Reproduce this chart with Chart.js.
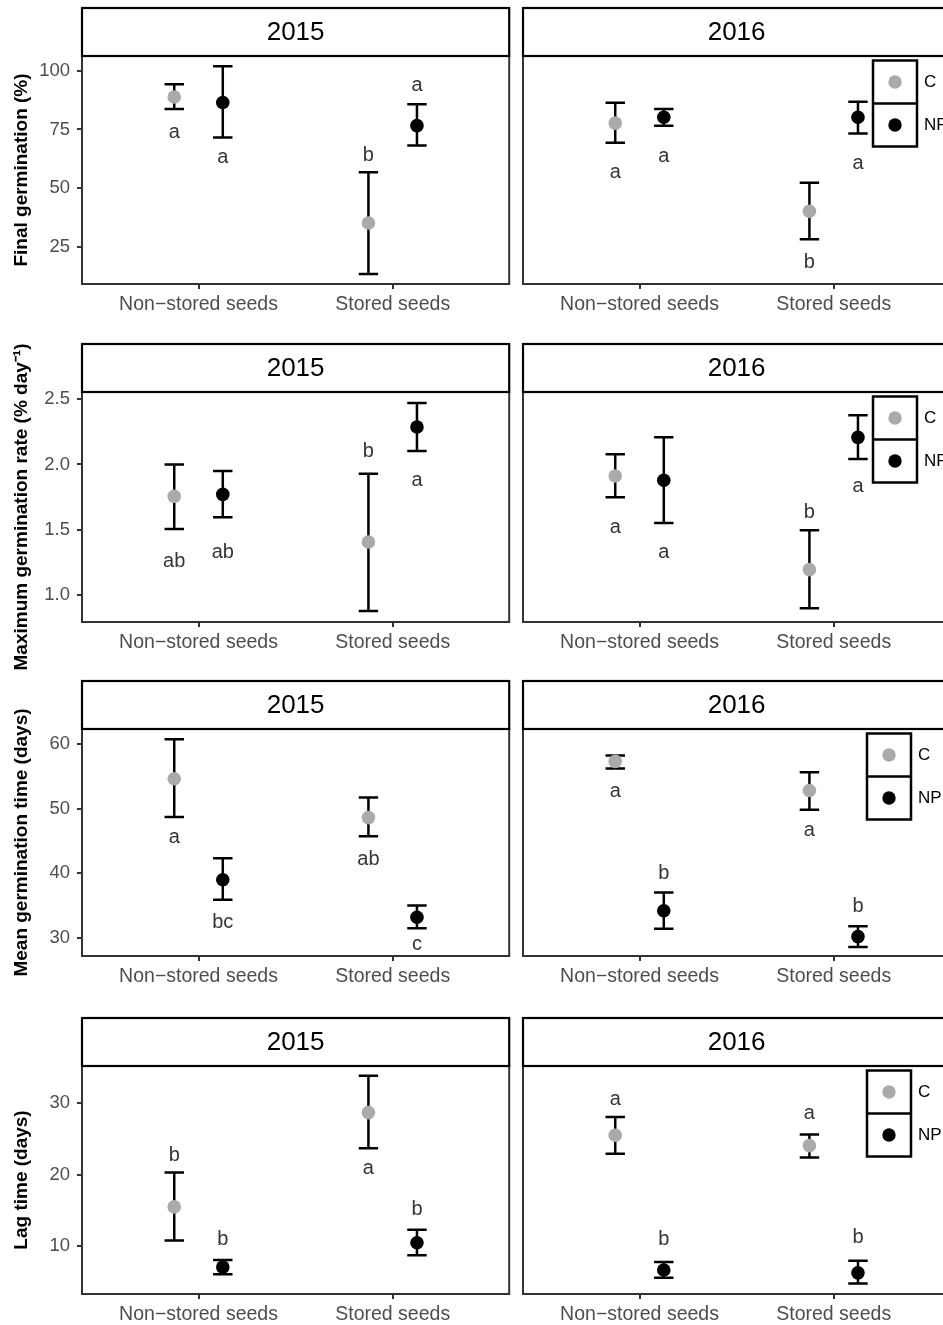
<!DOCTYPE html>
<html>
<head>
<meta charset="utf-8">
<script src="https://cdn.jsdelivr.net/npm/chart.js@4.4.1/dist/chart.umd.min.js"></script>
<style>
  body { margin: 0; background: #fff; overflow: hidden; width: 943px; height: 1325px; position: relative; }
  canvas { position: absolute; }
</style>
</head>
<body>
<script>
// categories / facets
const categories = ['Non\u2212stored seeds', 'Stored seeds'];
const years = ['2015', '2016'];
const treatments = ['C', 'NP'];

// values are ordered [2015 non-stored, 2015 stored, 2016 non-stored, 2016 stored]

// Final germination (%)
const fgMeanC = [88.8, 35.1, 77.7, 40.1];
const fgLowC = [83.7, 13.4, 69.3, 28.2];
const fgHighC = [94.3, 56.7, 86.4, 52.3];
const fgMeanNP = [86.5, 76.6, 80.2, 80.2];
const fgLowNP = [71.6, 68.1, 76.6, 73.3];
const fgHighNP = [101.9, 85.7, 83.7, 86.8];
const fgLettersC = ['a', 'b', 'a', 'b'];
const fgLettersNP = ['a', 'a', 'a', 'a'];
const fgLetterYC = [73.6, 64.0, 56.6, 18.2];
const fgLetterYNP = [63.1, 93.8, 63.4, 60.4];
const fgTicks = [25, 50, 75, 100];

// Maximum germination rate (% day-1)
const mgrMeanC = [1.755, 1.404, 1.911, 1.192];
const mgrLowC = [1.504, 0.874, 1.747, 0.895];
const mgrHighC = [2.0, 1.929, 2.078, 1.494];
const mgrMeanNP = [1.77, 2.287, 1.878, 2.208];
const mgrLowNP = [1.594, 2.103, 1.55, 2.041];
const mgrHighNP = [1.95, 2.472, 2.208, 2.377];
const mgrLettersC = ['ab', 'b', 'a', 'b'];
const mgrLettersNP = ['ab', 'a', 'a', 'a'];
const mgrLetterYC = [1.256, 2.10, 1.517, 1.634];
const mgrLetterYNP = [1.32, 1.878, 1.325, 1.834];
const mgrTicks = [1.0, 1.5, 2.0, 2.5];

// Mean germination time (days)
const mgtMeanC = [54.6, 48.6, 57.3, 52.8];
const mgtLowC = [48.7, 45.7, 56.2, 49.8];
const mgtHighC = [60.7, 51.7, 58.2, 55.6];
const mgtMeanNP = [39.0, 33.2, 34.2, 30.2];
const mgtLowNP = [35.9, 31.5, 31.4, 28.6];
const mgtHighNP = [42.3, 35.0, 37.0, 31.8];
const mgtLettersC = ['a', 'ab', 'a', 'a'];
const mgtLettersNP = ['bc', 'c', 'b', 'b'];
const mgtLetterYC = [45.45, 42.1, 52.7, 46.6];
const mgtLetterYNP = [32.45, 29.0, 40.0, 34.9];
const mgtTicks = [30, 40, 50, 60];

// Lag time (days)
const lagMeanC = [15.5, 28.65, 25.5, 24.05];
const lagLowC = [10.8, 23.7, 22.9, 22.4];
const lagHighC = [20.3, 33.8, 28.05, 25.6];
const lagMeanNP = [7.1, 10.5, 6.7, 6.3];
const lagLowNP = [6.1, 8.75, 5.6, 4.8];
const lagHighNP = [8.1, 12.3, 7.8, 8.0];
const lagLettersC = ['b', 'a', 'a', 'a'];
const lagLettersNP = ['b', 'b', 'b', 'b'];
const lagLetterYC = [22.65, 20.8, 30.5, 28.6];
const lagLetterYNP = [11.0, 15.1, 10.9, 11.2];
const lagTicks = [10, 20, 30];

const measures = [
  { title: 'Final germination (%)', min: 9.1, max: 106.3, ticks: fgTicks, dec: 0,
    C: [fgMeanC, fgLowC, fgHighC, fgLettersC, fgLetterYC], NP: [fgMeanNP, fgLowNP, fgHighNP, fgLettersNP, fgLetterYNP] },
  { title: 'Maximum germination rate (% day\u207B\u00B9)', min: 0.79, max: 2.556, ticks: mgrTicks, dec: 1,
    C: [mgrMeanC, mgrLowC, mgrHighC, mgrLettersC, mgrLetterYC], NP: [mgrMeanNP, mgrLowNP, mgrHighNP, mgrLettersNP, mgrLetterYNP] },
  { title: 'Mean germination time (days)', min: 27.2, max: 62.3, ticks: mgtTicks, dec: 0,
    C: [mgtMeanC, mgtLowC, mgtHighC, mgtLettersC, mgtLetterYC], NP: [mgtMeanNP, mgtLowNP, mgtHighNP, mgtLettersNP, mgtLetterYNP] },
  { title: 'Lag time (days)', min: 3.35, max: 35.16, ticks: lagTicks, dec: 0,
    C: [lagMeanC, lagLowC, lagHighC, lagLettersC, lagLetterYC], NP: [lagMeanNP, lagLowNP, lagHighNP, lagLettersNP, lagLetterYNP] }
];

// layout (pixels)
const rowTop = [56, 392, 729, 1066];
const rowBottom = [284, 622, 956, 1294];
const legendLeft = [357, 357, 351, 351];
const FONT = "'Liberation Sans', Arial, Helvetica, sans-serif";
const colors = { C: '#aaaaaa', NP: '#000000' };

const panelPlugin = {
  id: 'panel',
  beforeDatasetsDraw(chart) {
    const { ctx, scales: { x, y } } = chart;
    ctx.save();
    ctx.strokeStyle = '#000';
    ctx.lineWidth = 2.5;
    chart.data.datasets.forEach(ds => {
      ds.data.forEach(p => {
        const px = x.getPixelForValue(p.x);
        const x0 = x.getPixelForValue(p.x - 0.05);
        const x1 = x.getPixelForValue(p.x + 0.05);
        const yl = y.getPixelForValue(p.lo);
        const yh = y.getPixelForValue(p.hi);
        ctx.beginPath();
        ctx.moveTo(px, yl); ctx.lineTo(px, yh);
        ctx.moveTo(x0, yl); ctx.lineTo(x1, yl);
        ctx.moveTo(x0, yh); ctx.lineTo(x1, yh);
        ctx.stroke();
      });
    });
    ctx.restore();
  },
  afterDraw(chart, args, opts) {
    const { ctx, chartArea: a, scales: { x, y } } = chart;
    ctx.save();
    // letters
    ctx.fillStyle = '#36362e';
    ctx.font = '20px ' + FONT;
    ctx.textAlign = 'center';
    ctx.textBaseline = 'middle';
    chart.data.datasets.forEach(ds => {
      ds.data.forEach(p => {
        ctx.fillText(p.letter, x.getPixelForValue(p.x), y.getPixelForValue(p.ly));
      });
    });
    // panel border
    ctx.strokeStyle = '#333';
    ctx.lineWidth = 2;
    ctx.strokeRect(a.left, a.top, a.right - a.left, a.bottom - a.top);
    // strip
    const sh = 48;
    ctx.fillStyle = '#fff';
    ctx.fillRect(a.left, a.top - sh, a.right - a.left, sh);
    ctx.strokeStyle = '#000';
    ctx.lineWidth = 2.2;
    ctx.strokeRect(a.left, a.top - sh, a.right - a.left, sh);
    ctx.fillStyle = '#000';
    ctx.font = '26px ' + FONT;
    ctx.fillText(opts.strip, (a.left + a.right) / 2, a.top - sh / 2 + 1);
    // legend
    if (opts.legend) {
      const lx = opts.legendLeft, ly = a.top + 4.5, cw = 44, ch = 43;
      chart.data.datasets.forEach((ds, i) => {
        ctx.fillStyle = ds.backgroundColor;
        ctx.beginPath();
        ctx.arc(lx + cw / 2, ly + ch * i + ch / 2, 6.7, 0, Math.PI * 2);
        ctx.fill();
        ctx.fillStyle = '#000';
        ctx.font = '17px ' + FONT;
        ctx.textAlign = 'left';
        ctx.fillText(ds.label, lx + cw + 7, ly + ch * i + ch / 2);
      });
      ctx.strokeStyle = '#000';
      ctx.lineWidth = 2.5;
      ctx.strokeRect(lx, ly, cw, ch * 2);
      ctx.beginPath();
      ctx.moveTo(lx, ly + ch); ctx.lineTo(lx + cw, ly + ch);
      ctx.stroke();
    }
    ctx.restore();
  }
};

function buildPanel(m, row, yi) {
  const isLeft = yi === 0;
  const canvas = document.createElement('canvas');
  const w = isLeft ? 516 : 441;
  const h = 52 + (rowBottom[row] - rowTop[row]) + 40 + 16;
  canvas.width = w;
  canvas.height = h;
  canvas.style.left = (isLeft ? 0 : 516) + 'px';
  canvas.style.top = (rowTop[row] - 52) + 'px';
  document.body.appendChild(canvas);

  const points = (arrs, dx) => [0, 1].map(c => {
    const i = yi * 2 + c;
    return { x: c + 1 + dx, y: arrs[0][i], lo: arrs[1][i], hi: arrs[2][i], letter: arrs[3][i], ly: arrs[4][i] };
  });

  new Chart(canvas, {
    type: 'scatter',
    data: {
      datasets: treatments.map((t, k) => ({
        label: t,
        data: points(m[t], k === 0 ? -0.125 : 0.125),
        backgroundColor: colors[t],
        borderWidth: 0,
        pointRadius: 6.8,
        pointHoverRadius: 6.8
      }))
    },
    options: {
      responsive: false,
      animation: false,
      events: [],
      layout: { padding: { top: 52, bottom: 16, left: isLeft ? 0 : 7, right: 6 } },
      plugins: {
        legend: { display: false },
        tooltip: { enabled: false },
        panel: { strip: years[yi], legend: !isLeft, legendLeft: legendLeft[row] }
      },
      scales: {
        x: {
          type: 'linear', min: 0.4, max: 2.6,
          afterBuildTicks: s => { s.ticks = [{ value: 1 }, { value: 2 }]; },
          afterFit: s => { s.height = 40; },
          border: { display: false },
          grid: { drawOnChartArea: false, drawTicks: true, tickLength: 5, color: '#333', lineWidth: 2 },
          ticks: { callback: v => categories[v - 1], color: '#4d4d4d', font: { family: FONT, size: 19.5 }, padding: 4, maxRotation: 0, autoSkip: false }
        },
        y: {
          display: isLeft,
          min: m.min, max: m.max,
          afterBuildTicks: s => { s.ticks = m.ticks.map(v => ({ value: v })); },
          afterFit: s => { s.width = isLeft ? 82 : 0; },
          border: { display: false },
          grid: { drawOnChartArea: false, drawTicks: true, tickLength: 5, color: '#333', lineWidth: 2 },
          ticks: { callback: v => v.toFixed(m.dec), color: '#4d4d4d', font: { family: FONT, size: 18.5 }, padding: 7 },
          title: { display: true, text: m.title, color: '#000', font: { family: FONT, size: 19, weight: 'bold' }, padding: { top: 10, bottom: 0 } }
        }
      }
    },
    plugins: [panelPlugin]
  });
}

measures.forEach((m, row) => {
  years.forEach((yr, yi) => buildPanel(m, row, yi));
});
</script>
</body>
</html>
